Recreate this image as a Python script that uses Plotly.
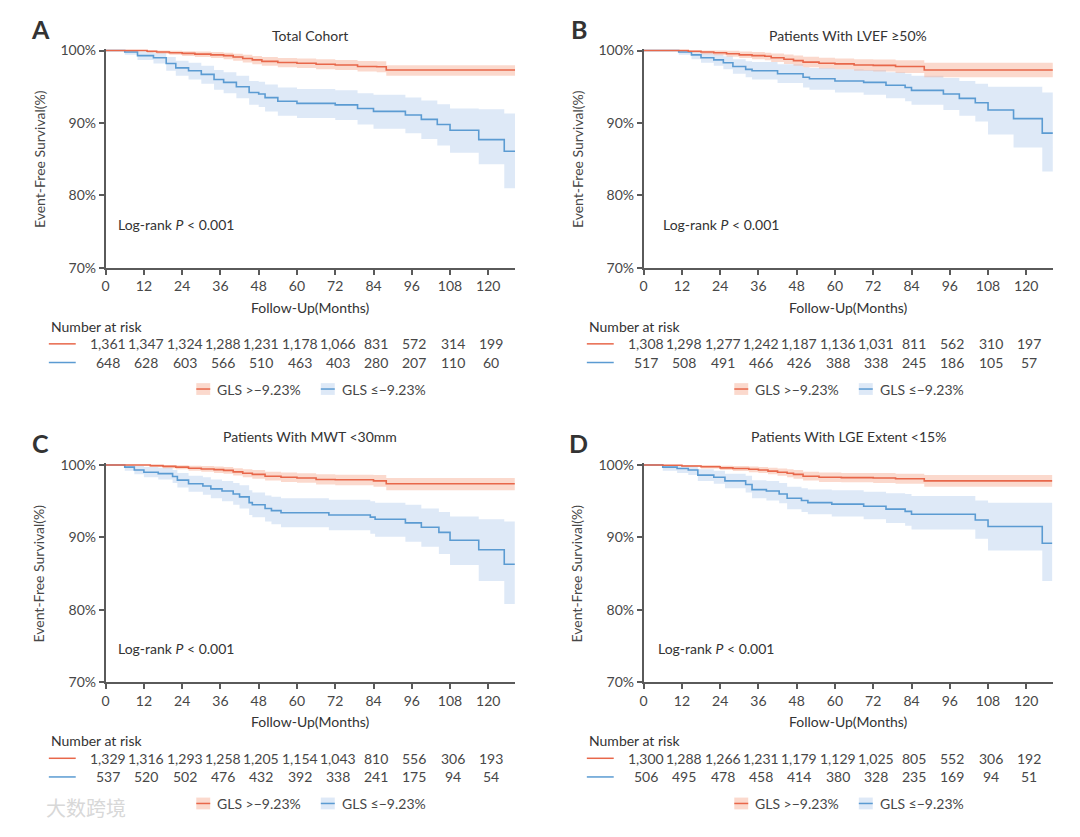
import plotly.graph_objects as go

W, H = 1080, 837

months_ticks = [0, 12, 24, 36, 48, 60, 72, 84, 96, 108, 120]

panel_letters = ["A", "B", "C", "D"]
panel_titles = ["Total Cohort", "Patients With LVEF ≥50%", "Patients With MWT <30mm",
                "Patients With LGE Extent <15%"]
legend_labels = ["GLS >−9.23%", "GLS ≤−9.23%"]

# ---------- Panel A ----------
A_red_t = [0, 13, 16, 20, 24, 28, 33, 37, 40, 43, 46, 49, 54, 60, 66, 72, 79, 85, 88, 128.4]
A_red_s = [100, 99.9, 99.8, 99.7, 99.6, 99.5, 99.4, 99.3, 99.1, 98.9, 98.7, 98.5, 98.35, 98.25, 98.1, 98.0, 97.8, 97.75, 97.3, 97.3]
A_red_lo = [100, 99.7, 99.55, 99.4, 99.25, 99.1, 98.95, 98.8, 98.6, 98.35, 98.1, 97.9, 97.7, 97.6, 97.4, 97.3, 97.1, 97.0, 96.5, 96.5]
A_red_hi = [100, 100, 100, 99.95, 99.9, 99.85, 99.8, 99.7, 99.55, 99.4, 99.25, 99.1, 98.95, 98.9, 98.8, 98.7, 98.55, 98.5, 97.95, 97.95]
A_blue_t = [0, 6, 10, 15, 19, 22, 26, 30, 34, 37, 41, 45, 48, 50, 54, 60, 72, 79, 84, 94, 99, 104, 108, 117, 125, 128.4]
A_blue_s = [100, 99.8, 99.3, 99.0, 98.2, 97.6, 97.2, 96.7, 96.0, 95.6, 95.0, 94.2, 94.0, 93.5, 93.0, 92.7, 92.5, 92.0, 91.6, 91.1, 90.5, 89.8, 89.0, 87.7, 86.1, 86.1]
A_blue_lo = [100, 99.4, 98.7, 98.2, 97.2, 96.5, 96.0, 95.4, 94.6, 94.1, 93.4, 92.5, 92.2, 91.6, 91.0, 90.7, 90.4, 89.8, 89.2, 88.6, 87.8, 86.9, 85.9, 84.3, 81.0, 81.0]
A_blue_hi = [100, 100, 99.9, 99.7, 99.1, 98.6, 98.3, 97.9, 97.3, 97.0, 96.5, 95.8, 95.7, 95.3, 94.9, 94.7, 94.5, 94.1, 93.9, 93.5, 93.1, 92.6, 92.0, 91.9, 91.3, 91.3]
A_risk_red = [1361, 1347, 1324, 1288, 1231, 1178, 1066, 831, 572, 314, 199]
A_risk_blue = [648, 628, 603, 566, 510, 463, 403, 280, 207, 110, 60]

# ---------- Panel B ----------
B_red_t = [0, 14, 18, 22, 26, 30, 34, 38, 40, 44, 47, 50, 55, 60, 66, 72, 79, 88, 128.3]
B_red_s = [100, 99.9, 99.8, 99.7, 99.55, 99.4, 99.3, 99.2, 99.0, 98.8, 98.6, 98.4, 98.25, 98.15, 98.0, 97.95, 97.8, 97.3, 97.3]
B_red_lo = [100, 99.7, 99.5, 99.35, 99.15, 98.95, 98.8, 98.65, 98.4, 98.15, 97.9, 97.7, 97.5, 97.4, 97.2, 97.1, 96.9, 96.3, 96.3]
B_red_hi = [100, 100, 100, 100, 99.95, 99.85, 99.8, 99.7, 99.6, 99.45, 99.3, 99.15, 99.0, 98.9, 98.8, 98.75, 98.65, 98.3, 98.3]
B_blue_t = [0, 11, 15, 18, 22, 25, 28, 32, 34, 42, 50, 52, 60, 69, 76, 82, 84, 94, 99, 104, 108, 116, 125, 128.3]
B_blue_s = [100, 99.8, 99.4, 99.0, 98.7, 98.3, 97.8, 97.4, 97.2, 96.8, 96.3, 96.1, 95.8, 95.6, 95.2, 94.9, 94.5, 94.0, 93.4, 92.8, 91.8, 90.6, 88.6, 88.6]
B_blue_lo = [100, 99.4, 98.8, 98.3, 97.9, 97.4, 96.8, 96.3, 96.0, 95.5, 94.9, 94.6, 94.2, 93.9, 93.4, 93.0, 92.5, 91.8, 91.0, 90.2, 88.4, 86.6, 83.3, 83.3]
B_blue_hi = [100, 100, 99.9, 99.7, 99.5, 99.2, 98.8, 98.5, 98.4, 98.1, 97.7, 97.6, 97.4, 97.3, 97.0, 96.8, 96.5, 96.2, 95.8, 95.4, 95.0, 95.0, 94.2, 94.2]
B_risk_red = [1308, 1298, 1277, 1242, 1187, 1136, 1031, 811, 562, 310, 197]
B_risk_blue = [517, 508, 491, 466, 426, 388, 338, 245, 186, 105, 57]

# ---------- Panel C ----------
C_red_t = [0, 14, 18, 22, 26, 30, 34, 37, 40, 43, 46, 50, 55, 60, 66, 72, 84, 88, 128.3]
C_red_s = [100, 99.9, 99.8, 99.7, 99.55, 99.45, 99.35, 99.25, 99.05, 98.85, 98.7, 98.45, 98.3, 98.2, 98.0, 97.95, 97.8, 97.4, 97.4]
C_red_lo = [100, 99.7, 99.55, 99.4, 99.2, 99.05, 98.9, 98.8, 98.55, 98.3, 98.1, 97.85, 97.65, 97.55, 97.3, 97.2, 97.0, 96.5, 96.5]
C_red_hi = [100, 100, 100, 99.95, 99.9, 99.85, 99.8, 99.7, 99.55, 99.4, 99.3, 99.05, 98.95, 98.85, 98.7, 98.65, 98.6, 98.2, 98.2]
C_blue_t = [0, 6, 9, 12, 16.5, 21, 22.5, 26, 30.5, 33, 36.5, 40, 42, 45, 46, 50, 52, 55, 70, 83, 84.5, 94, 99, 104.5, 108, 117, 125, 128.3]
C_blue_s = [100, 99.7, 99.3, 99.0, 98.8, 98.4, 97.9, 97.4, 97.1, 96.7, 96.4, 96.0, 95.6, 94.8, 94.5, 94.0, 93.7, 93.4, 93.1, 92.8, 92.5, 92.0, 91.4, 90.7, 89.6, 88.3, 86.3, 86.3]
C_blue_lo = [100, 99.2, 98.7, 98.3, 98.0, 97.5, 96.9, 96.3, 95.9, 95.4, 95.0, 94.5, 94.0, 93.1, 92.8, 92.2, 91.8, 91.4, 91.0, 90.5, 90.1, 89.4, 88.7, 87.7, 86.2, 84.0, 80.8, 80.8]
C_blue_hi = [100, 100, 99.9, 99.7, 99.6, 99.3, 98.9, 98.5, 98.3, 98.0, 97.8, 97.5, 97.2, 96.5, 96.2, 95.8, 95.6, 95.4, 95.2, 95.0, 94.8, 94.5, 94.0, 93.5, 92.9, 92.5, 92.2, 92.2]
C_risk_red = [1329, 1316, 1293, 1258, 1205, 1154, 1043, 810, 556, 306, 193]
C_risk_blue = [537, 520, 502, 476, 432, 392, 338, 241, 175, 94, 54]

# ---------- Panel D ----------
D_red_t = [0, 6, 12, 18, 24, 28, 33, 36, 39, 42, 45, 47, 50, 55, 62, 72, 79, 88, 128.1]
D_red_s = [100, 99.95, 99.85, 99.75, 99.6, 99.5, 99.4, 99.3, 99.15, 99.0, 98.85, 98.7, 98.45, 98.3, 98.25, 98.2, 98.1, 97.8, 97.8]
D_red_lo = [100, 99.85, 99.7, 99.5, 99.3, 99.15, 99.0, 98.9, 98.7, 98.5, 98.3, 98.1, 97.85, 97.65, 97.6, 97.5, 97.4, 97.0, 97.0]
D_red_hi = [100, 100, 100, 100, 99.9, 99.85, 99.8, 99.7, 99.6, 99.5, 99.4, 99.3, 99.05, 98.95, 98.9, 98.9, 98.8, 98.6, 98.6]
D_blue_t = [0, 6, 10.5, 14, 17, 22, 25.5, 32, 34, 38.5, 42.5, 45, 49.5, 51.5, 59, 69, 76, 82, 84, 104, 108, 125, 128.1]
D_blue_s = [100, 99.7, 99.5, 99.3, 98.6, 98.3, 97.8, 97.3, 96.6, 96.4, 96.0, 95.4, 95.1, 94.8, 94.6, 94.3, 93.9, 93.6, 93.2, 92.4, 91.5, 89.2, 89.2]
D_blue_lo = [100, 99.2, 98.9, 98.6, 97.8, 97.4, 96.8, 96.2, 95.4, 95.1, 94.7, 93.9, 93.5, 93.2, 92.9, 92.5, 92.0, 91.6, 91.1, 89.8, 88.2, 84.0, 84.0]
D_blue_hi = [100, 100, 100, 99.9, 99.4, 99.2, 98.8, 98.5, 97.9, 97.8, 97.5, 97.0, 96.8, 96.6, 96.5, 96.3, 96.1, 96.0, 95.7, 95.1, 94.8, 94.8, 94.8]
D_risk_red = [1300, 1288, 1266, 1231, 1179, 1129, 1025, 805, 552, 306, 192]
D_risk_blue = [506, 495, 478, 458, 414, 380, 328, 235, 169, 94, 51]

logrank_x = [3.2, 5.4, 3.2, 3.8]
logrank_y = [76.0, 76.0, 74.7, 74.7]

panels = [
    (A_red_t, A_red_s, A_red_lo, A_red_hi, A_blue_t, A_blue_s, A_blue_lo, A_blue_hi, A_risk_red, A_risk_blue),
    (B_red_t, B_red_s, B_red_lo, B_red_hi, B_blue_t, B_blue_s, B_blue_lo, B_blue_hi, B_risk_red, B_risk_blue),
    (C_red_t, C_red_s, C_red_lo, C_red_hi, C_blue_t, C_blue_s, C_blue_lo, C_blue_hi, C_risk_red, C_risk_blue),
    (D_red_t, D_red_s, D_red_lo, D_red_hi, D_blue_t, D_blue_s, D_blue_lo, D_blue_hi, D_risk_red, D_risk_blue),
]

# ---------- styling ----------
FONT = "Lato"
TXT = "#474747"
DARK = "#333333"
AXC = "#5a5a5a"
RED = "#E8674A"
BLUE = "#5B9BD2"
RED_BAND = "rgba(246,170,145,0.45)"
BLUE_BAND = "rgba(200,218,242,0.6)"
FS = 14

def px(x):
    return x / W

def py(y):
    return 1 - y / H

# pixel geometry of panel A; other panels offset
PLOT_L, PLOT_R = 102, 513
PLOT_T, PLOT_B = 44.3, 265.7
DX, DY = 540, 422
YMAX = 100.25
ppp = (PLOT_B - PLOT_T) / 30.0  # pixels per percent
XMAX = 128.4

fig = go.Figure()
annotations = []
shapes = []

def note(x, y, text, size=FS, color=TXT, xanchor="center", xref="paper", yref="paper", **kw):
    fam = kw.pop("family", FONT)
    annotations.append(dict(x=x, y=y, xref=xref, yref=yref, text=text, showarrow=False,
                            xanchor=xanchor, yanchor="middle",
                            font=dict(family=fam, size=size, color=color), **kw))

for i, (rt, rs, rlo, rhi, bt, bs, blo, bhi, rr, rb) in enumerate(panels):
    col, row = i % 2, i // 2
    ox, oy = col * DX, row * DY
    xa = "x" if i == 0 else f"x{i+1}"
    ya = "y" if i == 0 else f"y{i+1}"
    xname = "xaxis" if i == 0 else f"xaxis{i+1}"
    yname = "yaxis" if i == 0 else f"yaxis{i+1}"

    top_px = PLOT_T + oy - (YMAX - 100) * ppp
    fig.layout[xname] = dict(
        domain=[px(PLOT_L + ox), px(PLOT_R + ox)], range=[0, XMAX], anchor=ya,
        tickvals=months_ticks, ticks="outside", ticklen=5, tickwidth=1.5, tickcolor=AXC,
        showline=True, linecolor=AXC, linewidth=1.5, showgrid=False, zeroline=False,
        tickfont=dict(family=FONT, size=FS, color=TXT), fixedrange=True,
    )
    fig.layout[yname] = dict(
        domain=[py(PLOT_B + oy), py(top_px)], range=[70, YMAX], anchor=xa,
        tickvals=[70, 80, 90, 100], ticktext=["70%", "80%", "90%", "100%"],
        ticks="outside", ticklen=5, tickwidth=1.5, tickcolor=AXC,
        showline=True, linecolor=AXC, linewidth=1.5, showgrid=False, zeroline=False,
        tickfont=dict(family=FONT, size=FS, color=TXT), fixedrange=True,
    )

    # confidence bands
    fig.add_trace(go.Scatter(x=bt, y=blo, mode="lines", line=dict(width=0, shape="hv"),
                             xaxis=xa, yaxis=ya, showlegend=False, hoverinfo="skip"))
    fig.add_trace(go.Scatter(x=bt, y=bhi, mode="lines", line=dict(width=0, shape="hv"),
                             fill="tonexty", fillcolor=BLUE_BAND,
                             xaxis=xa, yaxis=ya, showlegend=False, hoverinfo="skip"))
    fig.add_trace(go.Scatter(x=rt, y=rlo, mode="lines", line=dict(width=0, shape="hv"),
                             xaxis=xa, yaxis=ya, showlegend=False, hoverinfo="skip"))
    fig.add_trace(go.Scatter(x=rt, y=rhi, mode="lines", line=dict(width=0, shape="hv"),
                             fill="tonexty", fillcolor=RED_BAND,
                             xaxis=xa, yaxis=ya, showlegend=False, hoverinfo="skip"))
    # survival lines
    fig.add_trace(go.Scatter(x=bt, y=bs, mode="lines", line=dict(color=BLUE, width=1.6, shape="hv"),
                             xaxis=xa, yaxis=ya, showlegend=False, name=legend_labels[1]))
    fig.add_trace(go.Scatter(x=rt, y=rs, mode="lines", line=dict(color=RED, width=1.6, shape="hv"),
                             xaxis=xa, yaxis=ya, showlegend=False, name=legend_labels[0]))

    # panel letter & title
    note(px(37 + ox), py(22 + oy), "<b>" + panel_letters[i] + "</b>", size=25, color=DARK)
    title_y = 29 if row == 0 else 437
    note(px((PLOT_L + PLOT_R) / 2 + ox), py(title_y), panel_titles[i], size=FS, color=DARK)
    # axis titles
    note(px(35 + ox), py((PLOT_T + PLOT_B) / 2 + oy), "Event-Free Survival(%)", textangle=-90)
    note(px((PLOT_L + PLOT_R) / 2 + ox), py(306 + oy), "Follow-Up(Months)", color=DARK)
    # log-rank
    note(logrank_x[i], logrank_y[i], "Log-rank <i>P</i> < 0.001", color=DARK,
         xanchor="left", xref=xa, yref=ya)
    # number at risk
    note(px(45 + ox), py(325 + oy), "Number at risk", color=DARK, xanchor="left")
    for yy, vals, colr in ((343, rr, RED), (362, rb, BLUE)):
        shapes.append(dict(type="line", xref="paper", yref="paper",
                           x0=px(45 + ox), x1=px(72 + ox), y0=py(yy + oy), y1=py(yy + oy),
                           line=dict(color=colr, width=1.5)))
        for tm, v in zip(months_ticks, vals):
            note(tm + 0.8, py(yy + oy), f"{v:,}", xref=xa)
    # legend
    ly = 389 + oy
    for sx, tx, lab, band, colr in ((193, 212, legend_labels[0], RED_BAND, RED),
                                    (318, 337, legend_labels[1], BLUE_BAND, BLUE)):
        shapes.append(dict(type="rect", xref="paper", yref="paper",
                           x0=px(sx + ox), x1=px(sx + 14 + ox), y0=py(ly + 6), y1=py(ly - 6),
                           fillcolor=band, line=dict(width=0)))
        shapes.append(dict(type="line", xref="paper", yref="paper",
                           x0=px(sx + ox), x1=px(sx + 14 + ox), y0=py(ly), y1=py(ly),
                           line=dict(color=colr, width=1.5)))
        note(px(tx + ox), py(ly), lab, xanchor="left")

# watermark
note(px(40), py(815), "大数跨境", size=20, color="#d8d8d8", xanchor="left", family="Noto Sans CJK SC")

fig.update_layout(
    width=W, height=H, margin=dict(l=0, r=0, t=0, b=0),
    paper_bgcolor="white", plot_bgcolor="white",
    showlegend=False, annotations=annotations, shapes=shapes,
    font=dict(family=FONT, color=TXT),
)

fig.write_html("out.html", config={"displayModeBar": False},
               post_script="document.documentElement.style.margin='0';document.body.style.margin='0';document.body.style.overflow='hidden';")
